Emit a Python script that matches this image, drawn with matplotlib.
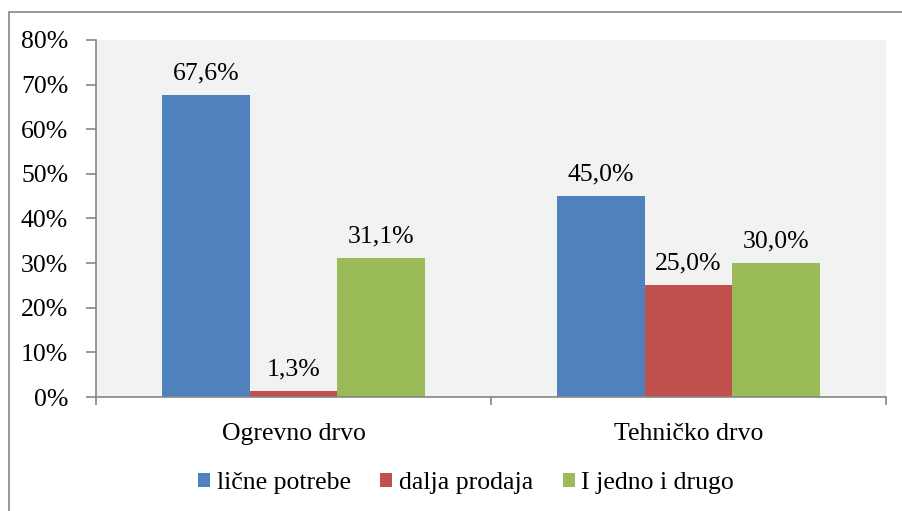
import numpy as np
import matplotlib.pyplot as plt
from matplotlib.patches import Rectangle
from matplotlib.ticker import FuncFormatter

categories = ['Ogrevno drvo', 'Tehničko drvo']
series = ['lične potrebe', 'dalja prodaja', 'I jedno i drugo']
values = [
    [67.6, 45.0],
    [1.3, 25.0],
    [31.1, 30.0],
]
colors = ['#4f81bd', '#c0504d', '#9bbb59']

plt.rcParams['font.family'] = ['Liberation Serif', 'DejaVu Serif']
plt.rcParams['font.size'] = 18.5

fig = plt.figure(figsize=(9.02, 5.11), dpi=100)
W, H = 902, 511
ax = fig.add_axes([96 / W, 1 - 397 / H, 790 / W, 357 / H])
ax.set_facecolor('#f2f2f2')

# outer chart border (only left/top visible in the crop)
fig.patches.append(Rectangle((9 / W, -0.1), 1.2, 1 - 12 / H + 0.1, transform=fig.transFigure,
                             fill=False, edgecolor='#868686', linewidth=1.2))

width = 1 / 4.5
x = np.arange(len(categories))
for i, (name, vals) in enumerate(zip(series, values)):
    pos = x + (i - 1) * width
    ax.bar(pos, vals, width, color=colors[i], label=name, zorder=2)
    for p, v in zip(pos, vals):
        ax.annotate(f'{v:.1f}%'.replace('.', ','), (p, v), xytext=(0, 8),
                    textcoords='offset points', ha='center', va='bottom')

ax.set_xlim(-0.5, 1.5)
ax.set_ylim(0, 80)
ax.set_yticks(np.arange(0, 81, 10))
ax.yaxis.set_major_formatter(FuncFormatter(lambda v, _: f'{v:.0f}%'))
ax.set_xticks(x)
ax.set_xticklabels(categories)
ax.set_xticks([-0.5, 0.5, 1.5], minor=True)
ax.tick_params(axis='x', which='major', length=0, pad=19)
ax.tick_params(axis='x', which='minor', length=6, color='#868686', width=1.2)
ax.tick_params(axis='y', length=7, color='#868686', width=1.2, pad=13)

for s in ['top', 'right']:
    ax.spines[s].set_visible(False)
for s in ['left', 'bottom']:
    ax.spines[s].set_color('#868686')
    ax.spines[s].set_linewidth(1.2)

fig.legend(loc='center', bbox_to_anchor=(466 / W, 1 - 483 / H), ncol=3, frameon=False,
           handlelength=0.47, handleheight=0.47, handletextpad=0.25, columnspacing=1.15)

fig.savefig('out.png', dpi=100)
